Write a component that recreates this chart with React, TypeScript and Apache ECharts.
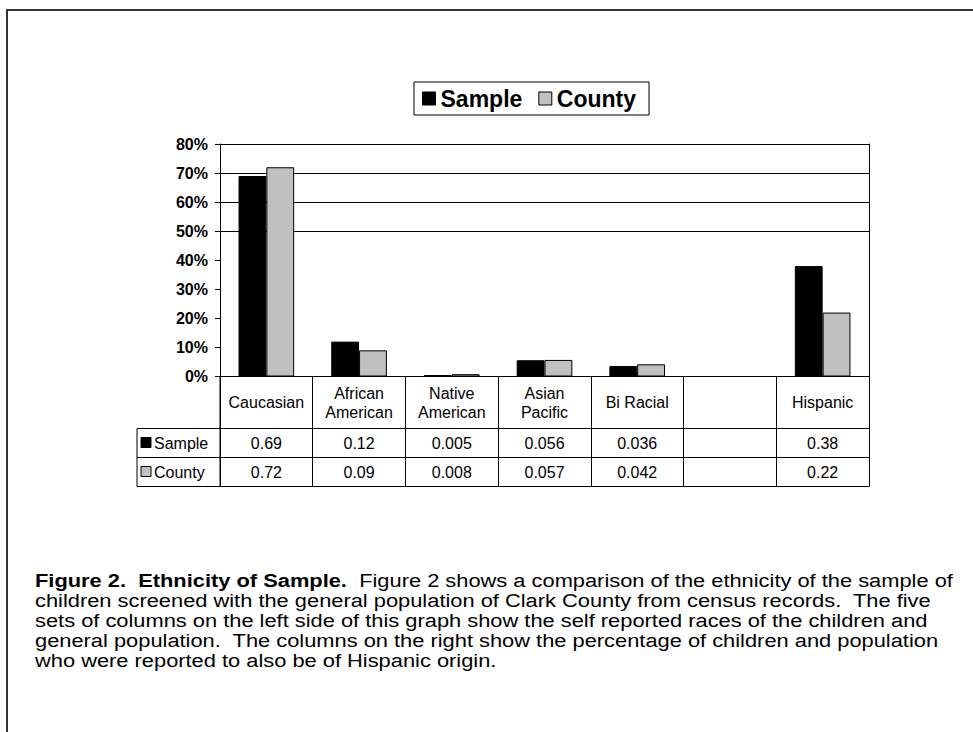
import React, { useEffect, useRef } from "react";
import * as echarts from "echarts";

const categories = ["Caucasian", "African\nAmerican", "Native\nAmerican", "Asian\nPacific", "Bi Racial", "", "Hispanic"];
const sampleValues: (number | null)[] = [0.69, 0.12, 0.005, 0.056, 0.036, null, 0.38];
const countyValues: (number | null)[] = [0.72, 0.09, 0.008, 0.057, 0.042, null, 0.22];
const seriesNames = ["Sample", "County"];
const captionBold = "Figure 2.  Ethnicity of Sample.";
const captionLines = [
  "  Figure 2 shows a comparison of the ethnicity of the sample of",
  "children screened with the general population of Clark County from census records.  The five",
  "sets of columns on the left side of this graph show the self reported races of the children and",
  "general population.  The columns on the right show the percentage of children and population",
  "who were reported to also be of Hispanic origin.",
];

const FONT = "'Liberation Sans', Arial, sans-serif";
const GL = 220, GT = 144, GW = 649, GH = 232.5;
const SAMPLE_COLOR = "#000000";
const COUNTY_COLOR = "#c0c0c0";
const TXT = 16;

export default function App() {
  const ref = useRef<HTMLDivElement>(null);
  useEffect(() => {
    if (!ref.current) return;
    const chart = echarts.init(ref.current, null, { renderer: "svg" });
    const bottom = GT + GH;
    const rowA = bottom + 52;
    const rowB = rowA + 29;
    const rowC = rowB + 29;
    const fmt = (v: number | null) => (v == null ? "" : String(v));
    const splitColors = ["transparent", "transparent", "transparent", "transparent", "transparent", "#000", "#000", "#000", "#000"];
    chart.setOption({
      animation: false,
      backgroundColor: "#fff",
      textStyle: { fontFamily: FONT },
      grid: { left: GL, top: GT, width: GW, height: GH, containLabel: false },
      legend: {
        left: 414,
        top: 82,
        data: seriesNames,
        icon: "rect",
        itemWidth: 13,
        itemHeight: 13,
        itemGap: 16,
        padding: [5, 13, 5, 8],
        borderColor: "#000",
        borderWidth: 1,
        itemStyle: { borderColor: "#000", borderWidth: 1 },
        textStyle: { fontFamily: FONT, fontWeight: "bold", fontSize: 23, color: "#000" },
      },
      xAxis: [
        {
          type: "category",
          data: categories,
          position: "bottom",
          axisLine: { lineStyle: { color: "#000", width: 1 } },
          axisTick: { show: true, length: rowC - bottom, inside: false, lineStyle: { color: "#000" } },
          axisLabel: { interval: 0, margin: 26, verticalAlign: "middle", color: "#000", fontSize: TXT, lineHeight: 19, fontFamily: FONT },
        },
        {
          type: "category",
          data: sampleValues.map(fmt),
          position: "bottom",
          axisLine: { show: false },
          axisTick: { show: false },
          axisLabel: { interval: 0, margin: rowA - bottom + 14.5, verticalAlign: "middle", color: "#000", fontSize: TXT, fontFamily: FONT },
        },
        {
          type: "category",
          data: countyValues.map(fmt),
          position: "bottom",
          axisLine: { show: false },
          axisTick: { show: false },
          axisLabel: { interval: 0, margin: rowB - bottom + 14.5, verticalAlign: "middle", color: "#000", fontSize: TXT, fontFamily: FONT },
        },
      ],
      yAxis: [
        {
          type: "value",
          min: 0,
          max: 0.8,
          interval: 0.1,
          axisLine: { show: true, lineStyle: { color: "#000" } },
          axisTick: { show: true, length: 5, lineStyle: { color: "#000" } },
          splitLine: { show: true, lineStyle: { color: splitColors, width: 1 } },
          axisLabel: {
            margin: 12,
            color: "#000",
            fontWeight: "bold",
            fontSize: 16,
            fontFamily: FONT,
            formatter: (v: number) => Math.round(v * 100) + "%",
          },
        },
        {
          type: "value",
          min: 0,
          max: 0.8,
          interval: 0.1,
          position: "right",
          axisLine: { show: true, lineStyle: { color: "#000" } },
          axisTick: { show: false },
          splitLine: { show: false },
          axisLabel: { show: false },
        },
      ],
      series: [
        {
          name: seriesNames[0],
          type: "bar",
          data: sampleValues,
          barGap: "0%",
          barCategoryGap: "40%",
          itemStyle: { color: SAMPLE_COLOR, borderColor: "#000", borderWidth: 1 },
        },
        {
          name: seriesNames[1],
          type: "bar",
          data: countyValues,
          barGap: "0%",
          barCategoryGap: "40%",
          itemStyle: { color: COUNTY_COLOR, borderColor: "#000", borderWidth: 1 },
        },
      ],
      graphic: [
        { type: "rect", shape: { x: 7, y: 10, width: 1200, height: 1000 }, style: { fill: "none", stroke: "#333", lineWidth: 2 }, silent: true },
        { type: "line", shape: { x1: 137, y1: rowA, x2: GL + GW, y2: rowA }, style: { stroke: "#000", lineWidth: 1 } },
        { type: "line", shape: { x1: 137, y1: rowB, x2: GL + GW, y2: rowB }, style: { stroke: "#000", lineWidth: 1 } },
        { type: "line", shape: { x1: 137, y1: rowC, x2: GL + GW, y2: rowC }, style: { stroke: "#000", lineWidth: 1 } },
        { type: "line", shape: { x1: 137, y1: rowA, x2: 137, y2: rowC }, style: { stroke: "#000", lineWidth: 1 } },
        { type: "line", shape: { x1: GL, y1: bottom, x2: GL, y2: rowC }, style: { stroke: "#000", lineWidth: 1 } },
        { type: "rect", shape: { x: 141, y: rowA + 9, width: 10, height: 10 }, style: { fill: SAMPLE_COLOR, stroke: "#000", lineWidth: 1 } },
        { type: "rect", shape: { x: 141, y: rowB + 9, width: 10, height: 10 }, style: { fill: COUNTY_COLOR, stroke: "#000", lineWidth: 1 } },
        { type: "text", x: 154, y: rowA + 14.5, style: { text: seriesNames[0], font: `${TXT}px ${FONT}`, fill: "#000", verticalAlign: "middle" } },
        { type: "text", x: 154, y: rowB + 14.5, style: { text: seriesNames[1], font: `${TXT}px ${FONT}`, fill: "#000", verticalAlign: "middle" } },
        {
          type: "text",
          x: 35,
          y: 570,
          scaleX: 1.15,
          style: {
            text: "{b|" + captionBold + "}{n|" + captionLines[0] + "}\n" + captionLines.slice(1).map((l) => "{n|" + l + "}").join("\n"),
            rich: {
              b: { fontFamily: FONT, fontSize: 19, fontWeight: "bold", fill: "#000", lineHeight: 20 },
              n: { fontFamily: FONT, fontSize: 19, fill: "#000", lineHeight: 20 },
            },
            fill: "#000",
          },
        },
      ],
    });
    return () => chart.dispose();
  }, []);
  return <div ref={ref} style={{ position: "fixed", left: 0, top: 0, width: 973, height: 732 }} />;
}
